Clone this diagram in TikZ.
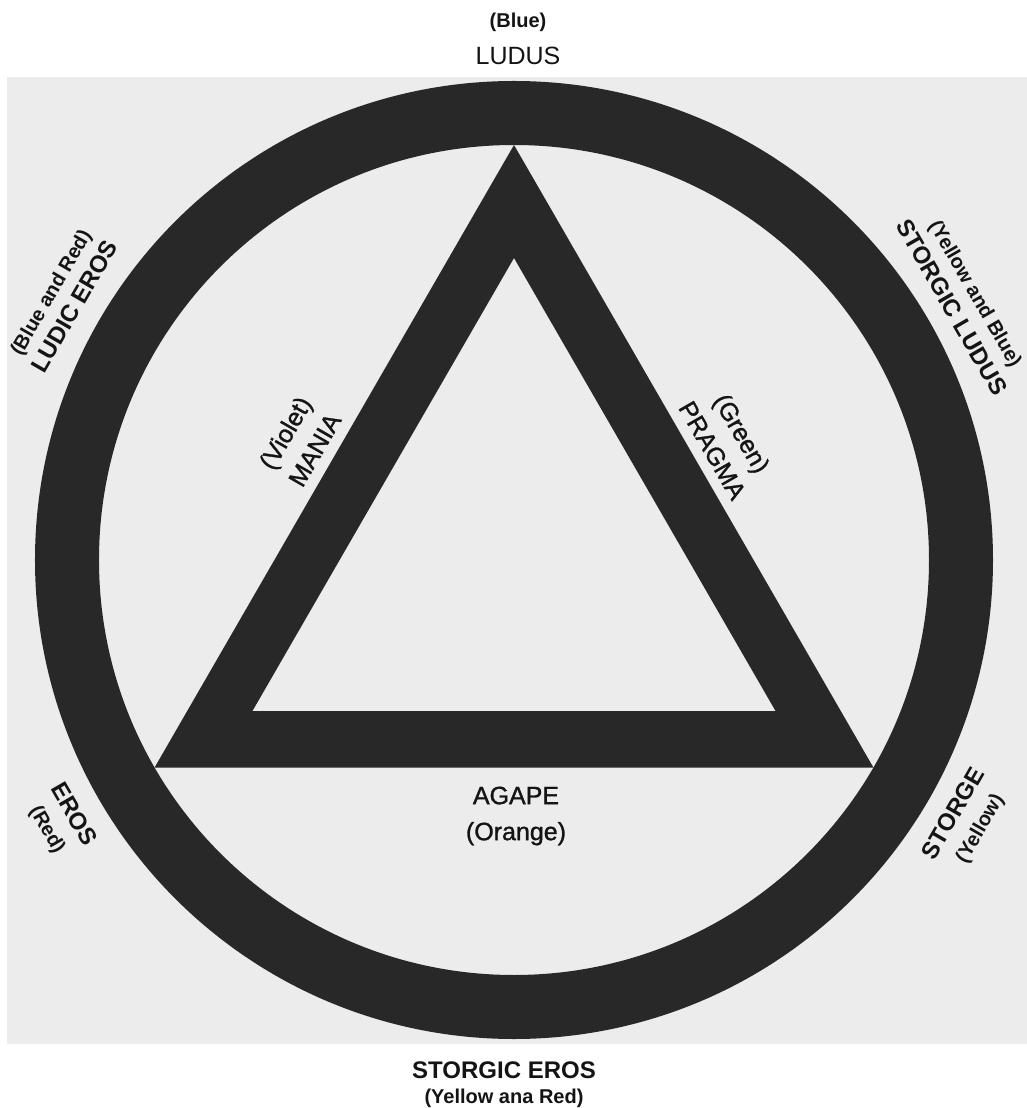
\documentclass[tikz,border=0pt]{standalone}
\usepackage{fontspec}
\setmainfont{Liberation Sans}
\newfontfamily\medsans{Liberation Sans}[FakeBold=1.2]
\definecolor{ringc}{RGB}{40,40,40}
\definecolor{paper}{RGB}{236,236,236}
\definecolor{ink}{RGB}{20,20,20}
\newcommand\lblcol{\fontsize{20}{29}\selectfont\bfseries}
\newcommand\lblname{\fontsize{24}{29}\selectfont\bfseries}
\newcommand\lblin{\medsans\fontsize{25}{33}\selectfont}
\begin{document}
\begin{tikzpicture}[x=1pt,y=1pt,
  outerpair/.style={font=\fontsize{24}{29}\selectfont, align=center, text=ink, inner sep=0pt},
  innerpair/.style={font=\fontsize{25}{34}\selectfont, align=center, text=ink, inner sep=0pt},
  single/.style={text=ink, inner sep=0pt}]
\useasboundingbox (-514,-548) rectangle (513,560);
\fill[white] (-514,-548) rectangle (513,560);
\fill[paper] (-507,-484) rectangle (513,483);
% ring
\fill[ringc, even odd rule] (0,0) circle (479) (0,0) circle (415);
% triangle
\fill[ringc, even odd rule] (90:415) -- (210:415) -- (330:415) -- cycle
  (90:302) -- (210:302) -- (330:302) -- cycle;
% top
\node[single, font=\fontsize{20}{24}\selectfont\bfseries] (blue) at (4,538) {(Blue)};
\node[single, font=\fontsize{25}{28}\selectfont] (ludus) at (4,504) {LUDUS};
% upper left
\node[outerpair, rotate=60] (ludiceros) at (150:521) {{\lblcol (Blue and Red)}\\{\lblname LUDIC EROS}};
% upper right
\node[outerpair, rotate=-60] (storgicludus) at (30:519) {{\lblcol (Yellow and Blue)}\\{\lblname STORGIC LUDUS}};
% lower left
\node[outerpair, rotate=-60] (eros) at (210:524) {{\lblname EROS}\\{\lblcol (Red)}};
% lower right
\node[outerpair, rotate=60] (storge) at (-30:523) {{\lblname STORGE}\\{\lblcol (Yellow)}};
% bottom
\node[outerpair, font=\fontsize{24}{25}\selectfont] (storgiceros) at (-10,-525) {{\lblname STORGIC EROS}\\{\lblcol (Yellow ana Red)}};
% triangle sides
\node[innerpair, rotate=60]  (mania)  at (151:245) {{\lblin (Violet)}\\{\lblin MANIA}};
\node[innerpair, rotate=-60] (pragma) at (29:244) {{\lblin (Green)}\\{\lblin PRAGMA}};
% base
\node[innerpair, font=\fontsize{25}{36}\selectfont] (agape) at (2,-256) {{\lblin AGAPE}\\{\lblin (Orange)}};
\end{tikzpicture}
\end{document}
